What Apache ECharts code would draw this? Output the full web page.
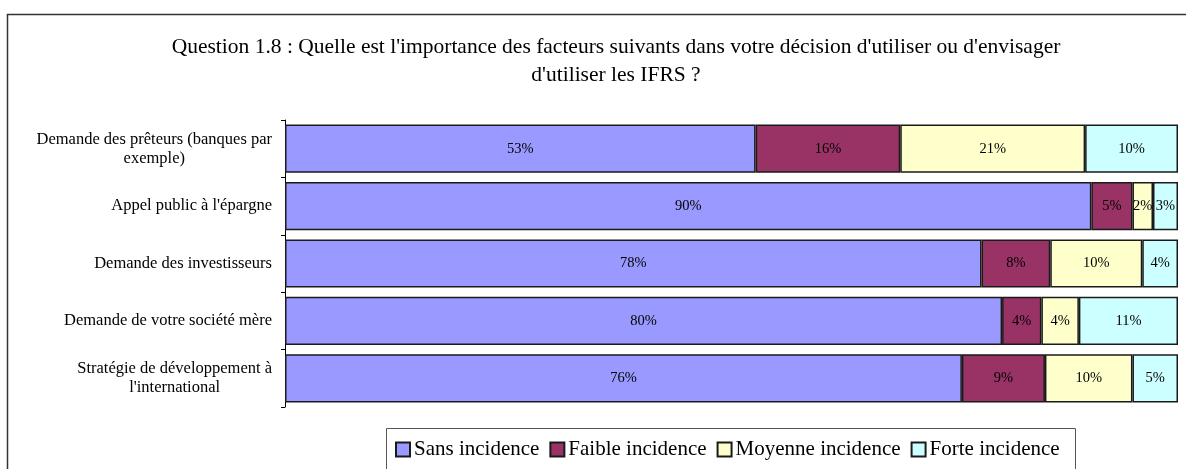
<!DOCTYPE html>
<html>
<head>
<meta charset="utf-8">
<script src="https://cdn.jsdelivr.net/npm/echarts@6/dist/echarts.min.js"></script>
<style>
  html, body { margin: 0; padding: 0; background: #fff; }
  #chart { width: 1186px; height: 469px; }
</style>
</head>
<body>
<div id="chart"></div>
<script>
// categories, top to bottom
const categories = [
    'Demande des prêteurs (banques par\nexemple)',
    'Appel public à l\'épargne',
    'Demande des investisseurs',
    'Demande de votre société mère',
    'Stratégie de développement à\nl\'international'
];
const seriesNames = ['Sans incidence', 'Faible incidence', 'Moyenne incidence', 'Forte incidence'];
// shares in % (labels show rounded values)
const sansIncidence = [52.7, 90.3, 78.0, 80.3, 75.8];
const faibleIncidence = [16.2, 4.6, 7.7, 4.4, 9.3];
const moyenneIncidence = [20.7, 2.3, 10.3, 4.2, 9.8];
const forteIncidence = [10.4, 2.8, 4.0, 11.1, 5.1];
const colors = ['#9999FF', '#993366', '#FFFFCC', '#CCFFFF'];

const chart = echarts.init(document.getElementById('chart'));
const serif = '"Liberation Serif", "DejaVu Serif", serif';
const allData = [sansIncidence, faibleIncidence, moyenneIncidence, forteIncidence];

const series = seriesNames.map(function (name, i) {
    return {
        name: name,
        type: 'bar',
        stack: 'total',
        barCategoryGap: '16%',
        data: allData[i],
        itemStyle: {
            color: colors[i],
            borderColor: '#1a1a1a',
            borderWidth: 1.5
        },
        label: {
            show: true,
            position: 'inside',
            color: '#000',
            fontFamily: serif,
            fontSize: 14.5,
            formatter: function (p) {
                return Math.round(p.value) + '%';
            }
        },
        emphasis: { disabled: true }
    };
});

const option = {
    animation: false,
    title: {
        text: 'Question 1.8 : Quelle est l\'importance des facteurs suivants dans votre décision d\'utiliser ou d\'envisager\nd\'utiliser les IFRS ?',
        left: 611,
        top: 28,
        textAlign: 'center',
        textStyle: {
            fontFamily: serif,
            fontSize: 21.5,
            fontWeight: 'normal',
            color: '#000',
            lineHeight: 28
        }
    },
    graphic: [
        {
            type: 'rect',
            shape: { x: 7.5, y: 14.5, width: 1200, height: 500 },
            style: { fill: 'none', stroke: '#333', lineWidth: 1.5 },
            z: -1
        },
        {
            type: 'rect',
            shape: { x: 386.5, y: 428.5, width: 689, height: 60 },
            style: { fill: 'none', stroke: '#555', lineWidth: 1 },
            z: -1
        }
    ],
    legend: {
        left: 390,
        top: 434,
        itemWidth: 14,
        itemHeight: 14,
        itemGap: 10,
        icon: 'rect',
        textStyle: {
            fontFamily: serif,
            fontSize: 21,
            color: '#000',
            padding: [0, 0, 0, -1]
        },
        data: seriesNames
    },
    grid: {
        left: 285,
        right: 8,
        top: 120,
        bottom: 62
    },
    xAxis: {
        type: 'value',
        min: 0,
        max: 100,
        show: false
    },
    yAxis: {
        type: 'category',
        inverse: true,
        data: categories,
        axisLine: { lineStyle: { color: '#000', width: 1 } },
        axisTick: { show: true, length: 4, lineStyle: { color: '#000' } },
        axisLabel: {
            margin: 13,
            align: 'right',
            formatter: function (v) {
                return v.split('\n').map(function (s) { return '{c|' + s + '}'; }).join('\n');
            },
            rich: {
                c: {
                    fontFamily: serif,
                    fontSize: 16.5,
                    color: '#000',
                    lineHeight: 19,
                    align: 'center'
                }
            }
        }
    },
    series: series
};
option && chart.setOption(option);
</script>
</body>
</html>
